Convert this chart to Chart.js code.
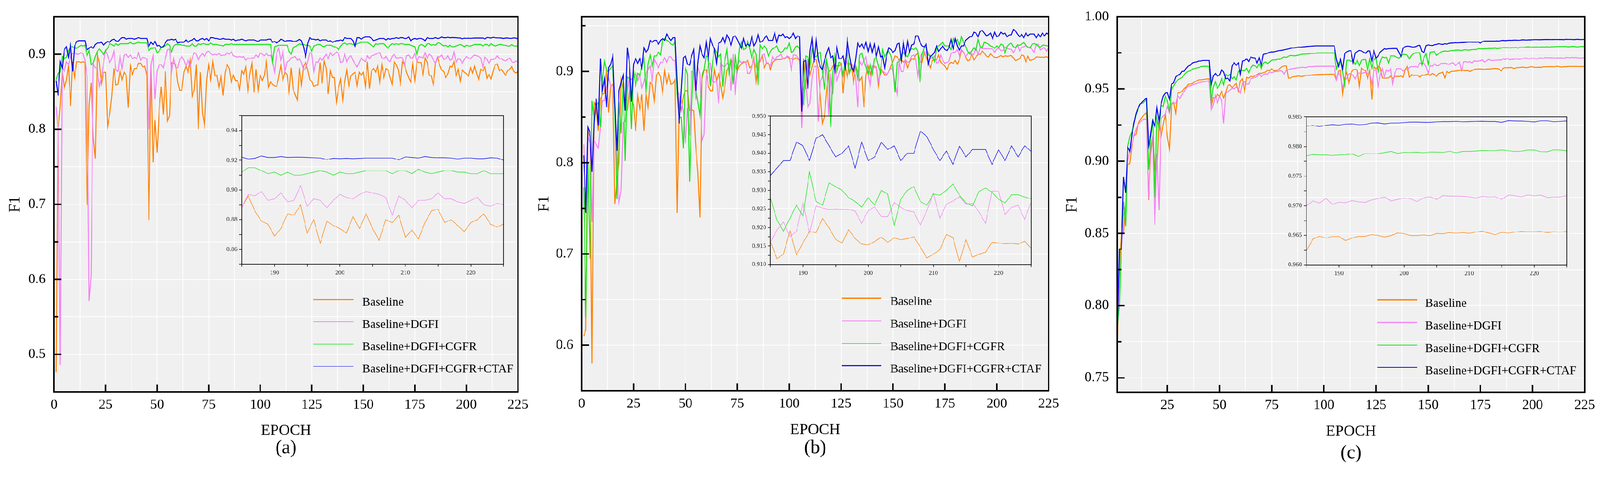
<!DOCTYPE html>
<html>
<head>
<meta charset="utf-8">
<title>F1 per epoch</title>
<script src="https://cdn.jsdelivr.net/npm/chart.js@4.4.1/dist/chart.umd.min.js"></script>
<style>
  html, body { margin: 0; padding: 0; background: #ffffff; overflow: hidden; }
  #page { position: relative; width: 4382px; height: 1291px; overflow: hidden; background: #ffffff; transform-origin: 0 0; }
  #page canvas { position: absolute; }
</style>
</head>
<body>
<div id="page">
  <canvas id="mainA"></canvas>
  <canvas id="mainB"></canvas>
  <canvas id="mainC"></canvas>
  <canvas id="insetA"></canvas>
  <canvas id="insetB"></canvas>
  <canvas id="insetC"></canvas>
</div>
<script>
"use strict";

// ---- data (F1 per epoch) ----
const seriesNames = ['Baseline', 'Baseline+DGFI', 'Baseline+DGFI+CGFR', 'Baseline+DGFI+CGFR+CTAF'];
const epochs = Array.from({ length: 225 }, (_, i) => i + 1);
const insetFirstEpoch = 185;

// panel (a)
const aBaseline = [
  .476,.800,.830,.876,.855,.865,.885,.831,.890,.869,
  .890,.890,.889,.890,.889,.699,.832,.862,.790,.761,
  .900,.889,.861,.876,.876,.804,.820,.844,.881,.859,
  .860,.878,.866,.876,.872,.829,.885,.873,.881,.881,
  .888,.888,.883,.884,.872,.679,.886,.756,.812,.769,
  .826,.857,.820,.877,.811,.818,.889,.888,.886,.863,
  .852,.852,.876,.884,.876,.892,.844,.852,.886,.800,
  .876,.821,.805,.865,.886,.866,.890,.871,.872,.856,
  .872,.845,.876,.886,.881,.863,.872,.865,.865,.853,
  .878,.873,.883,.852,.874,.888,.849,.880,.852,.872,
  .865,.872,.890,.856,.863,.860,.858,.857,.870,.885,
  .866,.876,.873,.850,.882,.853,.846,.839,.882,.859,
  .884,.889,.879,.866,.864,.857,.859,.859,.889,.861,
  .891,.881,.847,.878,.869,.869,.836,.855,.867,.839,
  .863,.879,.858,.871,.874,.876,.858,.876,.872,.876,
  .857,.890,.854,.878,.881,.876,.885,.863,.886,.869,
  .881,.879,.869,.860,.890,.886,.879,.861,.890,.886,
  .876,.869,.863,.887,.865,.890,.889,.889,.873,.895,
  .889,.872,.871,.859,
  .888,.896,.886,.879,.877,.869,
  .874,.884,.883,.890,.871,.880,.864,.879,.876,.874,
  .871,.882,.874,.884,.874,.866,.880,.878,.883,.868,
  .873,.867,.878,.886,.887,.878,.880,.876,.872,.878,
  .880,.884,.877,.875,.877
];
const aDGFI = [
  .830,.800,.486,.883,.877,.890,.886,.896,.901,.902,
  .900,.900,.902,.901,.892,.870,.571,.606,.887,.882,
  .881,.857,.869,.888,.905,.898,.889,.894,.904,.879,
  .877,.897,.881,.899,.900,.896,.899,.894,.896,.894,
  .902,.892,.896,.895,.894,.800,.886,.898,.840,.878,
  .886,.886,.882,.894,.906,.907,.876,.894,.882,.882,
  .893,.897,.892,.885,.892,.884,.895,.902,.900,.892,
  .898,.901,.897,.903,.904,.901,.899,.900,.899,.901,
  .898,.899,.899,.902,.900,.903,.898,.897,.896,.897,
  .896,.897,.892,.895,.894,.895,.895,.899,.896,.902,
  .900,.898,.901,.898,.899,.890,.876,.902,.908,.892,
  .903,.877,.890,.891,.895,.896,.897,.892,.894,.889,
  .879,.881,.890,.902,.901,.877,.890,.889,.895,.892,
  .896,.900,.894,.902,.898,.900,.903,.901,.889,.890,
  .900,.890,.896,.898,.892,.887,.883,.889,.895,.892,
  .890,.898,.894,.898,.899,.900,.901,.902,.895,.894,
  .897,.892,.890,.897,.900,.895,.895,.896,.895,.886,
  .898,.899,.895,.895,.901,.890,.897,.896,.895,.902,
  .895,.900,.898,.892,
  .888,.897,.896,.899,.893,.894,
  .898,.892,.893,.903,.889,.894,.893,.888,.893,.897,
  .895,.894,.897,.899,.898,.897,.895,.883,.896,.893,
  .888,.893,.893,.894,.898,.894,.894,.892,.891,.893,
  .895,.890,.889,.891,.890
];
const aCGFR = [
  .866,.875,.876,.897,.894,.896,.905,.910,.910,.908,
  .908,.910,.912,.911,.912,.898,.905,.886,.888,.897,
  .904,.907,.904,.899,.905,.908,.914,.913,.911,.914,
  .912,.914,.914,.914,.914,.914,.916,.914,.914,.915,
  .916,.915,.915,.915,.915,.905,.908,.908,.909,.902,
  .904,.909,.911,.911,.914,.912,.903,.911,.913,.913,
  .913,.912,.912,.911,.911,.911,.914,.911,.911,.914,
  .913,.914,.914,.913,.913,.915,.913,.913,.913,.912,
  .912,.911,.913,.913,.913,.914,.913,.913,.913,.913,
  .913,.913,.913,.913,.913,.913,.913,.913,.913,.913,
  .913,.913,.913,.913,.913,.890,.910,.911,.912,.912,
  .912,.912,.912,.904,.900,.909,.910,.912,.914,.913,
  .913,.912,.912,.911,.904,.911,.912,.913,.913,.911,
  .910,.912,.912,.912,.911,.910,.909,.906,.911,.914,
  .915,.913,.914,.914,.913,.912,.914,.915,.916,.916,
  .916,.916,.914,.912,.910,.914,.913,.914,.914,.914,
  .911,.908,.912,.914,.913,.914,.913,.914,.914,.913,
  .913,.913,.912,.911,.910,.899,.911,.913,.912,.910,
  .914,.914,.912,.913,
  .912,.915,.915,.913,.911,.912,
  .910,.912,.910,.910,.911,.912,.913,.912,.910,.912,
  .911,.911,.912,.913,.913,.913,.913,.911,.913,.913,
  .911,.914,.912,.911,.912,.913,.913,.912,.912,.911,
  .911,.913,.911,.911,.911
];
const aCTAF = [
  .865,.845,.890,.882,.906,.910,.896,.912,.877,.911,
  .917,.918,.918,.918,.918,.906,.908,.910,.908,.913,
  .915,.915,.916,.912,.915,.917,.916,.919,.920,.918,
  .917,.920,.922,.922,.920,.921,.921,.921,.920,.921,
  .922,.921,.921,.921,.921,.911,.916,.913,.917,.911,
  .912,.909,.910,.915,.919,.919,.920,.919,.920,.915,
  .916,.916,.916,.919,.916,.918,.919,.921,.918,.918,
  .920,.921,.919,.921,.918,.922,.922,.921,.921,.920,
  .920,.921,.920,.920,.920,.919,.920,.918,.919,.919,
  .920,.919,.918,.919,.919,.919,.919,.918,.917,.919,
  .919,.919,.919,.920,.920,.916,.917,.915,.917,.920,
  .919,.917,.918,.918,.918,.917,.917,.918,.920,.918,
  .910,.897,.914,.922,.920,.920,.919,.920,.918,.919,
  .919,.919,.917,.918,.916,.917,.918,.918,.919,.918,
  .922,.921,.921,.921,.918,.910,.922,.922,.920,.922,
  .923,.923,.923,.921,.918,.919,.920,.921,.921,.921,
  .919,.921,.920,.921,.921,.922,.921,.922,.922,.921,
  .921,.923,.918,.920,.921,.920,.921,.921,.920,.918,
  .922,.921,.921,.921,
  .9221,.9209,.9213,.9229,.9219,.9219,
  .9225,.9219,.9221,.9221,.9219,.9217,.9215,.9205,.9213,.9211,
  .9213,.9211,.9213,.9215,.9215,.9215,.9215,.9215,.9203,.9223,
  .9219,.9215,.9225,.9219,.9217,.9217,.9215,.9209,.9215,.9215,
  .9211,.9211,.9217,.9215,.9201
];

// panel (b)
const bBaseline = [
  .610,.617,.835,.828,.580,.866,.862,.835,.870,.875,
  .876,.904,.855,.884,.886,.755,.780,.800,.891,.879,
  .863,.858,.879,.871,.863,.835,.874,.859,.875,.835,
  .876,.861,.888,.886,.868,.896,.899,.894,.877,.901,
  .887,.897,.886,.887,.891,.745,.869,.857,.873,.879,
  .879,.857,.858,.857,.816,.790,.740,.892,.901,.902,
  .884,.879,.879,.902,.890,.898,.885,.871,.884,.901,
  .906,.913,.908,.906,.901,.906,.908,.910,.910,.912,
  .904,.906,.915,.889,.908,.911,.917,.904,.909,.909,
  .902,.910,.912,.913,.913,.913,.914,.915,.916,.914,
  .914,.913,.915,.914,.912,.848,.914,.880,.914,.896,
  .905,.913,.913,.902,.873,.843,.851,.877,.900,.901,
  .906,.908,.906,.906,.908,.876,.906,.894,.909,.906,
  .888,.906,.900,.890,.894,.861,.896,.906,.896,.905,
  .906,.905,.884,.904,.900,.896,.896,.900,.906,.911,
  .917,.916,.912,.913,.910,.912,.904,.910,.914,.913,
  .918,.920,.911,.910,.920,.916,.910,.904,.912,.913,
  .913,.918,.910,.908,.906,.902,.908,.910,.909,.912,
  .908,.913,.923,.921,
  .9162,.9116,.9128,.9191,.9126,.9159,
  .9189,.9186,.9224,.9199,.9168,.9158,.9194,.9170,.9155,.9153,
  .9162,.9174,.9160,.9172,.9167,.9170,.9175,.9147,.9118,.9128,
  .9140,.9181,.9173,.9107,.9167,.9120,.9128,.9133,.9160,.9158,
  .9156,.9157,.9155,.9163,.9144
];
const bDGFI = [
  .820,.745,.830,.820,.735,.824,.820,.816,.839,.868,
  .868,.884,.893,.884,.885,.860,.800,.757,.770,.844,
  .845,.879,.894,.891,.894,.898,.890,.897,.882,.889,
  .898,.902,.906,.890,.913,.909,.904,.910,.910,.915,
  .910,.916,.916,.912,.912,.877,.875,.868,.856,.821,
  .860,.830,.900,.899,.869,.905,.897,.824,.831,.893,
  .908,.909,.889,.888,.890,.865,.909,.906,.905,.909,
  .908,.879,.919,.874,.905,.912,.909,.911,.910,.898,
  .898,.905,.913,.905,.911,.912,.918,.919,.910,.909,
  .906,.916,.912,.916,.917,.919,.914,.914,.917,.916,
  .902,.918,.918,.916,.913,.838,.881,.889,.861,.865,
  .893,.905,.906,.845,.889,.894,.905,.912,.852,.898,
  .875,.905,.890,.898,.904,.894,.914,.908,.900,.908,
  .905,.894,.861,.911,.907,.912,.916,.897,.884,.906,
  .904,.905,.889,.898,.900,.899,.896,.900,.904,.901,
  .886,.875,.910,.900,.900,.913,.910,.911,.917,.918,
  .913,.895,.914,.920,.922,.920,.921,.915,.914,.917,
  .909,.910,.918,.912,.909,.910,.911,.920,.921,.921,
  .924,.917,.924,.921,
  .9160,.9193,.9215,.9175,.9190,.9267,
  .9185,.9258,.9252,.9249,.9250,.9249,.9249,.9244,.9211,.9245,
  .9256,.9229,.9229,.9267,.9254,.9245,.9242,.9206,.9245,.9292,
  .9225,.9263,.9271,.9283,.9263,.9265,.9242,.9211,.9298,.9298,
  .9235,.9254,.9260,.9222,.9268
];
const bCGFR = [
  .773,.630,.800,.695,.868,.848,.863,.866,.839,.891,
  .911,.901,.900,.904,.906,.857,.760,.867,.832,.889,
  .802,.894,.892,.837,.901,.885,.898,.896,.905,.914,
  .876,.908,.918,.906,.917,.917,.921,.918,.935,.936,
  .934,.933,.930,.929,.933,.875,.849,.850,.816,.904,
  .897,.779,.863,.912,.881,.867,.852,.896,.902,.917,
  .916,.884,.909,.925,.921,.916,.919,.883,.912,.924,
  .898,.912,.886,.919,.901,.925,.933,.924,.925,.933,
  .925,.915,.924,.919,.885,.929,.925,.928,.925,.917,
  .922,.925,.926,.928,.922,.921,.922,.926,.925,.931,
  .921,.922,.927,.928,.925,.868,.864,.917,.916,.905,
  .924,.917,.916,.920,.921,.901,.880,.913,.901,.839,
  .897,.918,.900,.910,.909,.896,.910,.922,.898,.904,
  .902,.906,.892,.918,.920,.911,.905,.897,.908,.897,
  .914,.915,.906,.898,.924,.916,.921,.922,.917,.905,
  .877,.910,.911,.918,.921,.918,.916,.922,.925,.924,
  .926,.922,.888,.918,.926,.927,.918,.917,.916,.911,
  .927,.928,.930,.932,.928,.928,.928,.924,.936,.932,
  .935,.928,.938,.932,
  .9280,.9220,.9190,.9225,.9260,.9230,
  .9350,.9270,.9260,.9320,.9310,.9300,.9280,.9270,.9255,.9280,
  .9260,.9300,.9290,.9206,.9276,.9300,.9310,.9270,.9260,.9290,
  .9287,.9300,.9317,.9287,.9266,.9258,.9297,.9306,.9295,.9276,
  .9266,.9288,.9288,.9282,.9277
];
const bCTAF = [
  .808,.745,.839,.833,.790,.844,.870,.841,.914,.879,
  .892,.861,.904,.908,.917,.864,.813,.879,.888,.896,
  .857,.926,.910,.867,.908,.914,.909,.914,.904,.926,
  .921,.924,.934,.932,.934,.934,.930,.934,.936,.934,
  .941,.937,.934,.937,.937,.889,.843,.879,.915,.917,
  .908,.907,.917,.924,.879,.909,.928,.919,.915,.932,
  .915,.936,.929,.925,.909,.931,.932,.937,.931,.940,
  .936,.929,.938,.939,.935,.930,.925,.936,.928,.930,
  .928,.938,.928,.932,.941,.932,.933,.936,.939,.934,
  .934,.934,.942,.932,.940,.939,.941,.937,.938,.936,
  .938,.942,.936,.939,.938,.856,.911,.912,.881,.922,
  .936,.910,.934,.913,.905,.902,.912,.920,.926,.915,
  .917,.901,.926,.914,.914,.917,.904,.934,.918,.905,
  .900,.913,.931,.927,.930,.925,.932,.922,.931,.921,
  .930,.917,.927,.916,.917,.904,.918,.926,.924,.921,
  .923,.930,.931,.912,.932,.918,.933,.921,.929,.930,
  .939,.939,.932,.928,.927,.930,.908,.917,.918,.921,
  .928,.922,.925,.928,.924,.923,.926,.935,.925,.936,
  .928,.923,.928,.928,
  .9340,.9360,.9380,.9380,.9430,.9420,
  .9380,.9440,.9450,.9420,.9390,.9400,.9420,.9360,.9430,.9380,
  .9390,.9430,.9410,.9420,.9380,.9400,.9400,.9460,.9445,.9410,
  .9380,.9406,.9370,.9420,.9390,.9410,.9410,.9410,.9370,.9410,
  .9380,.9420,.9390,.9420,.9405
];

// panel (c)
const cBaseline = [
  .768,.830,.850,.850,.870,.8976,.8984,.9102,.9177,.9185,
  .9261,.9286,.9307,.9324,.9336,.873,.9043,.9169,.894,.895,
  .9269,.9169,.9253,.9324,.9169,.9085,.9387,.9408,.9332,.9471,
  .9475,.9483,.9500,.9513,.9534,.9534,.9538,.9550,.9555,.9563,
  .9563,.9565,.9567,.9569,.9571,.9370,.9441,.9437,.9462,.9450,
  .9483,.9437,.9479,.9525,.9529,.9508,.9525,.9538,.9483,.9555,
  .9571,.9483,.9580,.9575,.9588,.9584,.9592,.9598,.9609,.9607,
  .9612,.9617,.9630,.9626,.9640,.9626,.9626,.9630,.9643,.9655,
  .9659,.9659,.9575,.9575,.9584,.9586,.9588,.9590,.9586,.9588,
  .9592,.9594,.9594,.9596,.9598,.9598,.9599,.9600,.9600,.9601,
  .9601,.9601,.9602,.9602,.9601,.9563,.9622,.9630,.9466,.9580,
  .9613,.9542,.9611,.9632,.9636,.9632,.9518,.9645,.9632,.9628,
  .9573,.9628,.9426,.9653,.9640,.9657,.9649,.9577,.9575,.9575,
  .9577,.9590,.9573,.9586,.9588,.9586,.9590,.9582,.9636,.9657,
  .9582,.9599,.9593,.9594,.9594,.9582,.9596,.9594,.9599,.9605,
  .9593,.9607,.9599,.9588,.9607,.9610,.9616,.9577,.9620,.9611,
  .9622,.9622,.9624,.9626,.9629,.9628,.9628,.9626,.9628,.9620,
  .9628,.9635,.9637,.9638,.9638,.9637,.9635,.9638,.9638,.9638,
  .9641,.9641,.9641,.9637,
  .96239,.96437,.96484,.96455,.96480,.96480,
  .96412,.96453,.96482,.96482,.96512,.96498,.96470,.96496,.96539,.96529,
  .96496,.96496,.96506,.96494,.96531,.96527,.96545,.96535,.96545,.96533,
  .96555,.96570,.96539,.96512,.96549,.96537,.96555,.96565,.96561,.96561,
  .96565,.96545,.96561,.96555,.96565
];
const cDGFI = [
  .785,.820,.840,.862,.870,.9001,.9068,.9118,.9177,.9223,
  .9253,.9269,.9286,.9292,.9290,.874,.9102,.9169,.856,.905,
  .866,.9296,.9311,.9328,.9378,.9336,.9404,.9404,.9399,.9454,
  .9433,.9462,.9479,.9504,.9521,.9521,.9529,.9533,.9538,.9542,
  .9546,.9550,.9550,.9555,.9550,.9353,.9387,.9454,.9404,.9450,
  .9420,.9261,.9471,.9479,.9492,.9504,.9500,.9513,.9496,.9471,
  .9538,.9550,.9534,.9534,.9571,.9575,.9580,.9584,.9605,.9584,
  .9598,.9605,.9601,.9617,.9613,.9617,.9622,.9620,.9626,.9622,
  .9601,.9630,.9634,.9638,.9640,.9643,.9645,.9647,.9649,.9651,
  .9647,.9651,.9655,.9653,.9655,.9657,.9657,.9657,.9658,.9657,
  .9657,.9658,.9657,.9657,.9657,.9563,.9613,.9588,.9513,.9555,
  .9575,.9605,.9607,.9594,.9569,.9603,.9611,.9607,.9611,.9615,
  .9607,.9607,.9535,.9628,.9632,.9518,.9594,.9640,.9582,.9630,
  .9622,.9640,.9535,.9611,.9640,.9640,.9640,.9624,.9636,.9630,
  .9649,.9655,.9653,.9657,.9649,.9680,.9674,.9678,.9653,.9611,
  .9662,.9657,.9674,.9662,.9662,.9676,.9676,.9678,.9674,.9670,
  .9678,.9682,.9662,.9674,.9685,.9628,.9687,.9689,.9685,.9689,
  .9680,.9695,.9691,.9693,.9695,.9701,.9685,.9695,.9705,.9697,
  .9697,.9699,.9699,.9701,
  .97000,.97080,.97045,.97122,.97024,.97059,
  .97050,.97086,.97065,.97055,.97096,.97120,.97147,.97080,.97106,.97130,
  .97116,.97070,.97133,.97150,.97106,.97170,.97161,.97161,.97157,.97147,
  .97130,.97155,.97145,.97150,.97108,.97178,.97170,.97147,.97182,.97167,
  .97178,.97137,.97145,.97147,.97171
];
const cCGFR = [
  .785,.800,.845,.872,.855,.910,.9169,.9206,.9269,.9320,
  .9362,.9395,.9400,.9412,.9425,.8942,.9152,.9294,.875,.9294,
  .9227,.9387,.9378,.9450,.9420,.9345,.9492,.9521,.9546,.9563,
  .9571,.9580,.9596,.9613,.9622,.9626,.9638,.9640,.9645,.9648,
  .9654,.9657,.9657,.9657,.9655,.9404,.9513,.9550,.9504,.9529,
  .9571,.9529,.9601,.9588,.9601,.9571,.9584,.9563,.9622,.9626,
  .9628,.9626,.9643,.9613,.9647,.9664,.9660,.9647,.9674,.9640,
  .9679,.9687,.9674,.9687,.9699,.9701,.9701,.9707,.9705,.9716,
  .9722,.9718,.9727,.9732,.9731,.9729,.9732,.9735,.9739,.9741,
  .9741,.9743,.9743,.9746,.9746,.9747,.9749,.9749,.9749,.9749,
  .9749,.9749,.9749,.9749,.9749,.9638,.9680,.9697,.9620,.9525,
  .9697,.9700,.9690,.9698,.9670,.9698,.9661,.9698,.9703,.9703,
  .9628,.9708,.9645,.9703,.9712,.9620,.9687,.9722,.9716,.9719,
  .9680,.9729,.9729,.9727,.9719,.9713,.9729,.9739,.9739,.9733,
  .9708,.9733,.9744,.9750,.9750,.9750,.9666,.9720,.9745,.9670,
  .9754,.9756,.9758,.9733,.9745,.9754,.9760,.9763,.9760,.9762,
  .9766,.9766,.9768,.9770,.9768,.9766,.9770,.9772,.9768,.9770,
  .9772,.9773,.9773,.9779,.9779,.9777,.9779,.9779,.9781,.9780,
  .9781,.9783,.9779,.9781,
  .97841,.97865,.97857,.97857,.97849,.97857,
  .97861,.97876,.97831,.97880,.97878,.97878,.97896,.97916,.97882,.97900,
  .97900,.97902,.97892,.97906,.97904,.97900,.97918,.97892,.97916,.97916,
  .97922,.97931,.97929,.97929,.97941,.97929,.97914,.97920,.97939,.97939,
  .97912,.97910,.97943,.97939,.97927
];
const cCTAF = [
  .780,.839,.839,.889,.878,.9097,.9068,.9185,.9260,.9330,
  .9370,.9395,.9412,.9425,.9435,.9106,.9185,.9282,.9240,.9370,
  .9278,.9395,.9450,.9471,.9475,.9429,.9534,.9542,.9584,.9595,
  .9601,.9622,.9622,.9643,.9659,.9664,.9680,.9685,.9687,.9693,
  .9693,.9697,.9697,.9697,.9697,.9525,.9588,.9607,.9590,.9596,
  .9632,.9617,.9571,.9575,.9555,.9659,.9682,.9664,.9681,.9601,
  .9693,.9697,.9708,.9690,.9721,.9716,.9714,.9680,.9716,.9664,
  .9739,.9743,.9747,.9754,.9756,.9756,.9760,.9764,.9766,.9768,
  .9771,.9774,.9777,.9781,.9784,.9785,.9787,.9789,.9789,.9791,
  .9792,.9794,.9795,.9796,.9797,.9798,.9798,.9798,.9798,.9798,
  .9798,.9798,.9798,.9798,.9798,.9706,.9655,.9706,.9638,.9747,
  .9756,.9764,.9765,.9682,.9750,.9758,.9767,.9763,.9755,.9747,
  .9763,.9763,.9695,.9763,.9713,.9729,.9755,.9767,.9779,.9775,
  .9779,.9779,.9780,.9780,.9780,.9752,.9725,.9783,.9793,.9796,
  .9795,.9791,.9789,.9793,.9800,.9802,.9760,.9752,.9800,.9805,
  .9802,.9800,.9806,.9808,.9813,.9810,.9808,.9813,.9810,.9816,
  .9818,.9818,.9820,.9819,.9820,.9821,.9821,.9823,.9824,.9825,
  .9824,.9824,.9824,.9825,.9817,.9828,.9831,.9831,.9831,.9831,
  .9831,.9831,.9832,.9831,
  .98345,.98355,.98337,.98357,.98367,.98359,
  .98376,.98380,.98365,.98371,.98394,.98398,.98380,.98394,.98394,.98402,
  .98410,.98410,.98406,.98406,.98414,.98418,.98418,.98422,.98416,.98418,
  .98422,.98424,.98420,.98420,.98406,.98433,.98429,.98427,.98422,.98412,
  .98431,.98431,.98416,.98422,.98429
];

// ---- tick values and tick labels ----
const mainXTicks = [0, 12.5, 25, 37.5, 50, 62.5, 75, 87.5, 100, 112.5, 125, 137.5, 150, 162.5, 175, 187.5, 200, 212.5, 225];
const mainXLabels = ['0', '', '25', '', '50', '', '75', '', '100', '', '125', '', '150', '', '175', '', '200', '', '225'];
const cXTicks = [12.5, 25, 37.5, 50, 62.5, 75, 87.5, 100, 112.5, 125, 137.5, 150, 162.5, 175, 187.5, 200, 212.5, 225];
const cXLabels = ['', '25', '', '50', '', '75', '', '100', '', '125', '', '150', '', '175', '', '200', '', '225'];
const aYTicks = [0.45, 0.5, 0.55, 0.6, 0.65, 0.7, 0.75, 0.8, 0.85, 0.9, 0.95];
const aYLabels = ['', '0.5', '', '0.6', '', '0.7', '', '0.8', '', '0.9', ''];
const bYTicks = [0.55, 0.6, 0.65, 0.7, 0.75, 0.8, 0.85, 0.9, 0.95];
const bYLabels = ['', '0.6', '', '0.7', '', '0.8', '', '0.9', ''];
const cYTicks = [0.75, 0.775, 0.8, 0.825, 0.85, 0.875, 0.9, 0.925, 0.95, 0.975, 1.0];
const cYLabels = ['0.75', '', '0.80', '', '0.85', '', '0.90', '', '0.95', '', '1.00'];
const insetXTicks = [185, 190, 195, 200, 205, 210, 215, 220, 225];
const insetXLabels = ['', '190', '', '200', '', '210', '', '220', ''];
const aInsetYTicks = [0.85, 0.86, 0.87, 0.88, 0.89, 0.90, 0.91, 0.92, 0.93, 0.94, 0.95];
const aInsetYLabels = ['', '0.86', '', '0.88', '', '0.90', '', '0.92', '', '0.94', ''];
const bInsetYTicks = [0.91, 0.9125, 0.915, 0.9175, 0.92, 0.9225, 0.925, 0.9275, 0.93, 0.9325, 0.935, 0.9375, 0.94, 0.9425, 0.945, 0.9475, 0.95];
const bInsetYLabels = ['0.910', '', '0.915', '', '0.920', '', '0.925', '', '0.930', '', '0.935', '', '0.940', '', '0.945', '', '0.950'];
const cInsetYTicks = [0.96, 0.9625, 0.965, 0.9675, 0.97, 0.9725, 0.975, 0.9775, 0.98, 0.9825, 0.985];
const cInsetYLabels = ['0.960', '', '0.965', '', '0.970', '', '0.975', '', '0.980', '', '0.985'];

// ---- styling ----
const seriesColors = ['#ff8000', '#f47ff4', '#12e612', '#0000f0'];
const serif = "'Liberation Serif', 'Times New Roman', serif";
const pageWidth = 4382;
const pageHeight = 1291;

const panels = [
  {
    key: 'A', caption: '(a)', series: [aBaseline, aDGFI, aCGFR, aCTAF],
    left: 0, width: 1460, plot: { left: 148, right: 1430, top: 40, bottom: 1074 },
    xMin: 0, xTicks: mainXTicks, xLabels: mainXLabels,
    yMin: 0.45, yMax: 0.95, yTicks: aYTicks, yLabels: aYLabels,
    yTitlePad: 25, xTitlePad: 85, captionY: 1228,
    legend: { x0: 858, x1: 968, textX: 992, rows: [821, 882, 943, 1004], textDy: 8, widths: [3.5, 2.2, 2.6, 2.2] },
    inset: { left: 662, right: 1379, top: 314, bottom: 724, min: 0.85, max: 0.95, ticks: aInsetYTicks, labels: aInsetYLabels }
  },
  {
    key: 'B', caption: '(b)', series: [bBaseline, bDGFI, bCGFR, bCTAF],
    left: 1460, width: 1460, plot: { left: 1593, right: 2872, top: 38, bottom: 1071 },
    xMin: 0, xTicks: mainXTicks, xLabels: mainXLabels,
    yMin: 0.55, yMax: 0.96, yTicks: bYTicks, yLabels: bYLabels,
    yTitlePad: 14, xTitlePad: 87, captionY: 1228,
    legend: { x0: 845, x1: 954, textX: 978, rows: [817, 879, 941, 1002], textDy: 10, widths: [3.4, 2, 1.6, 3.4] },
    inset: { left: 2110, right: 2824, top: 315, bottom: 725, min: 0.91, max: 0.95, ticks: bInsetYTicks, labels: bInsetYLabels }
  },
  {
    key: 'C', caption: '(c)', series: [cBaseline, cDGFI, cCGFR, cCTAF],
    left: 2920, width: 1462, plot: { left: 3060, right: 4340, top: 43, bottom: 1075 },
    xMin: 1, xTicks: cXTicks, xLabels: cXLabels,
    yMin: 0.74, yMax: 1.0, yTicks: cYTicks, yLabels: cYLabels,
    yTitlePad: 0, xTitlePad: 83, captionY: 1242,
    legend: { x0: 852, x1: 961, textX: 983, rows: [822, 884, 946, 1007], textDy: 10, widths: [3.4, 3.2, 2, 1.8] },
    inset: { left: 3578, right: 4291, top: 317, bottom: 726, min: 0.96, max: 0.985, ticks: cInsetYTicks, labels: cInsetYLabels }
  }
];

// background, frame, inward ticks, legend and caption
const panelDecor = {
  id: 'panelDecor',
  beforeDraw(chart, args, o) {
    if (!o.bg) return;
    const a = chart.chartArea;
    const ctx = chart.ctx;
    ctx.save();
    ctx.fillStyle = o.bg;
    ctx.fillRect(a.left, a.top, a.right - a.left, a.bottom - a.top);
    ctx.restore();
  },
  afterDraw(chart, args, o) {
    const a = chart.chartArea;
    const ctx = chart.ctx;
    const sx = chart.scales.x, sy = chart.scales.y;
    ctx.save();
    ctx.strokeStyle = '#000';
    ctx.lineCap = 'butt';
    if (o.inwardTicks) {
      ctx.lineWidth = 4;
      o.yTicks.forEach(function (v, i) {
        if (v <= sy.min || v >= sy.max) return;
        const y = sy.getPixelForValue(v);
        const len = o.yLabels[i] ? 20 : 11;
        ctx.beginPath(); ctx.moveTo(a.left, y); ctx.lineTo(a.left + len, y); ctx.stroke();
      });
      o.xTicks.forEach(function (v, i) {
        if (!o.xLabels[i] || v <= sx.min || v >= sx.max) return;
        const x = sx.getPixelForValue(v);
        ctx.beginPath(); ctx.moveTo(x, a.bottom); ctx.lineTo(x, a.bottom - 20); ctx.stroke();
      });
    }
    ctx.lineWidth = o.frameWidth;
    ctx.strokeRect(a.left, a.top, a.right - a.left, a.bottom - a.top);
    if (o.legend) {
      const lg = o.legend;
      ctx.font = '33px ' + serif;
      ctx.textAlign = 'left';
      ctx.textBaseline = 'middle';
      chart.data.datasets.forEach(function (ds, i) {
        const y = lg.rows[i];
        ctx.strokeStyle = ds.borderColor;
        ctx.lineWidth = lg.widths[i];
        ctx.beginPath(); ctx.moveTo(lg.x0, y); ctx.lineTo(lg.x1, y); ctx.stroke();
        ctx.fillStyle = '#000';
        ctx.fillText(ds.label, lg.textX, y + lg.textDy);
      });
    }
    if (o.caption) {
      ctx.font = '52px ' + serif;
      ctx.fillStyle = '#000';
      ctx.textAlign = 'center';
      ctx.textBaseline = 'middle';
      ctx.fillText(o.caption.text, (a.left + a.right) / 2, o.caption.y);
    }
    ctx.restore();
  }
};

function setTicks(values) {
  return function (scale) {
    scale.ticks = values.map(function (v) { return { value: v }; });
  };
}
function tickText(labels) {
  return function (value, index) { return labels[index]; };
}
function place(canvas, left, top, width, height) {
  canvas.width = width;
  canvas.height = height;
  canvas.style.left = left + 'px';
  canvas.style.top = top + 'px';
  canvas.style.width = width + 'px';
  canvas.style.height = height + 'px';
}
function buildDatasets(series, from, lineWidth) {
  return series.map(function (values, i) {
    return {
      label: seriesNames[i],
      data: values.slice(from),
      borderColor: seriesColors[i],
      backgroundColor: seriesColors[i],
      borderWidth: lineWidth,
      pointRadius: 0,
      tension: 0,
      fill: false,
      order: 3 - i
    };
  });
}

function drawMain(p) {
  const canvas = document.getElementById('main' + p.key);
  place(canvas, p.left, 0, p.width, pageHeight);
  new Chart(canvas.getContext('2d'), {
    type: 'line',
    data: { labels: epochs, datasets: buildDatasets(p.series, 0, 2.6) },
    options: {
      responsive: false,
      animation: false,
      devicePixelRatio: 1,
      events: [],
      layout: { padding: { top: p.plot.top, right: p.width - (p.plot.right - p.left), left: 0, bottom: 0 } },
      plugins: {
        legend: { display: false },
        tooltip: { enabled: false },
        panelDecor: {
          bg: '#f0f0f0', frameWidth: 4, inwardTicks: true,
          xTicks: p.xTicks, xLabels: p.xLabels, yTicks: p.yTicks, yLabels: p.yLabels,
          legend: p.legend,
          caption: { text: p.caption, y: p.captionY }
        }
      },
      scales: {
        x: {
          type: 'linear', min: p.xMin, max: 225,
          afterBuildTicks: setTicks(p.xTicks),
          afterFit: function (s) { s.height = pageHeight - p.plot.bottom; },
          grid: { color: '#ffffff', lineWidth: 2, drawTicks: false },
          border: { display: false },
          ticks: { autoSkip: false, maxRotation: 0, minRotation: 0, padding: 13, color: '#000', font: { family: serif, size: 38 }, callback: tickText(p.xLabels) },
          title: { display: true, text: 'EPOCH', color: '#000', font: { family: serif, size: 42 }, padding: { top: 0, bottom: p.xTitlePad } }
        },
        y: {
          type: 'linear', min: p.yMin, max: p.yMax,
          afterBuildTicks: setTicks(p.yTicks),
          afterFit: function (s) { s.width = p.plot.left - p.left; },
          grid: { color: '#ffffff', lineWidth: 2, drawTicks: false },
          border: { display: false },
          ticks: { autoSkip: false, padding: 23, color: '#000', font: { family: serif, size: 38 }, callback: tickText(p.yLabels) },
          title: { display: true, text: 'F1', color: '#000', font: { family: serif, size: 42, lineHeight: 0.8 }, padding: { top: p.yTitlePad, bottom: 0 } }
        }
      }
    },
    plugins: [panelDecor]
  });
}

function drawInset(p) {
  const box = p.inset;
  const padL = 80, padT = 12, padR = 12, padB = 50;
  const canvas = document.getElementById('inset' + p.key);
  place(canvas, box.left - padL, box.top - padT, box.right - box.left + padL + padR, box.bottom - box.top + padT + padB);
  new Chart(canvas.getContext('2d'), {
    type: 'line',
    data: { labels: epochs.slice(insetFirstEpoch - 1), datasets: buildDatasets(p.series, insetFirstEpoch - 1, 1.4) },
    options: {
      responsive: false,
      animation: false,
      devicePixelRatio: 1,
      events: [],
      layout: { padding: { top: padT, right: padR, left: 0, bottom: 0 } },
      plugins: {
        legend: { display: false },
        tooltip: { enabled: false },
        panelDecor: { bg: null, frameWidth: 1.8, inwardTicks: false }
      },
      scales: {
        x: {
          type: 'linear', min: 185, max: 225,
          afterBuildTicks: setTicks(insetXTicks),
          afterFit: function (s) { s.height = padB; },
          grid: { display: true, drawOnChartArea: false, drawTicks: true, tickLength: 7, color: '#000', lineWidth: 1.5 },
          border: { display: false },
          ticks: { autoSkip: false, maxRotation: 0, padding: 6, color: '#222', font: { family: serif, size: 17 }, callback: tickText(insetXLabels) }
        },
        y: {
          type: 'linear', min: box.min, max: box.max,
          afterBuildTicks: setTicks(box.ticks),
          afterFit: function (s) { s.width = padL; },
          grid: { display: true, drawOnChartArea: false, drawTicks: true, tickLength: 7, color: '#000', lineWidth: 1.5 },
          border: { display: false },
          ticks: { autoSkip: false, padding: 5, color: '#222', font: { family: serif, size: 17 }, callback: tickText(box.labels) }
        }
      }
    },
    plugins: [panelDecor]
  });
}

// keep the whole 4382 x 1291 figure inside the visible viewport
function fitPage() {
  const page = document.getElementById('page');
  const s = Math.min(window.innerWidth / pageWidth, window.innerHeight / pageHeight);
  if (s > 0 && s < 0.999) {
    page.style.transform = 'scale(' + s + ')';
  }
}

panels.forEach(drawMain);
panels.forEach(drawInset);
fitPage();
</script>
</body>
</html>
